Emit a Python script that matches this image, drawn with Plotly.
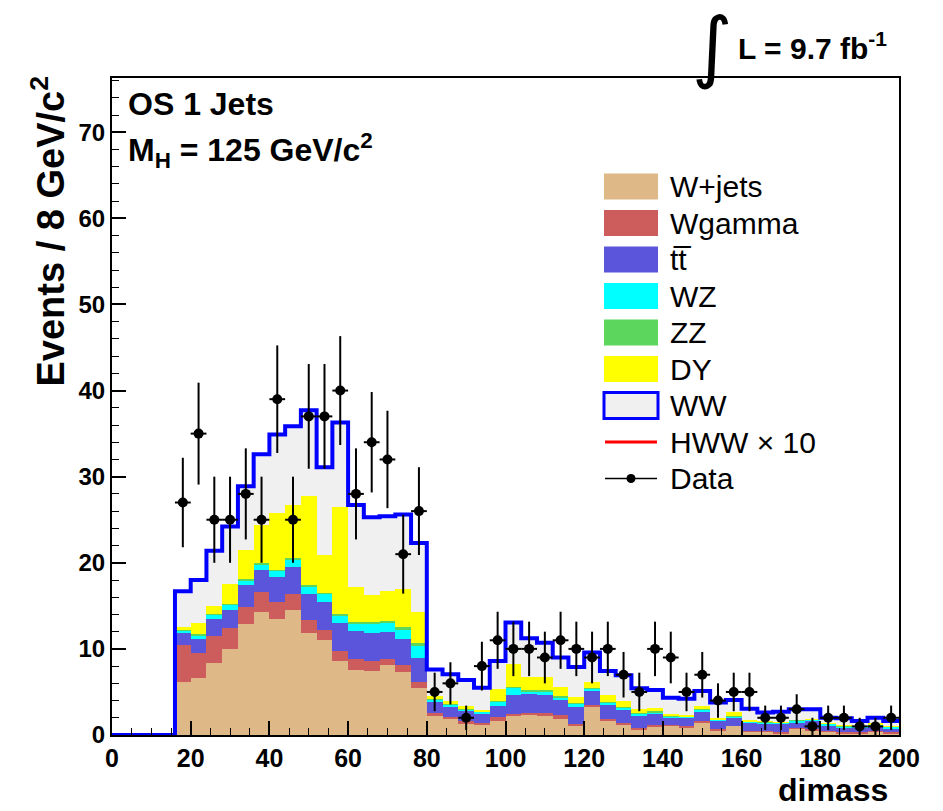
import numpy as np
import plotly.graph_objects as go

# ---- data (bin lower edges, width 4 GeV) ----
bin_lo = list(range(0, 200, 4))  # 50 bins, 0..196

# per-process contributions for bins 16..196 (bins 0..12 are empty)
wjets = [6.16, 6.67, 8.33, 9.96, 12.90, 14.30, 13.45, 14.50, 11.80, 11.05, 8.60, 7.56, 7.44, 8.10, 7.33, 5.50,
         2.20, 1.82, 1.30, 1.16, 1.63, 2.20, 2.33, 2.20, 1.90, 1.16, 3.26, 1.63, 1.13, 0.66, 0.97,
         1.05, 0.85, 1.43, 0.58, 1.05, 0.40, 0.40, 0.20, 0.74, 0.58, 0.40, 0.17, 0.20, 0.36, 0.20]
wgamma = [4.24, 2.90, 3.22, 2.44, 2.00, 2.30, 1.95, 1.90, 1.50, 1.15, 1.17, 1.31, 1.16, 0.77, 0.77, 0.60,
          0.30, 0.31, 0.33, 0.27, 0.47, 0.28, 0.27, 0.30, 0.38, 0.14, 0.24, 0.27, 0.30, 0.19, 0.16,
          0.10, 0.15, 0.20, 0.16, 0.05, 0.10, 0.10, 0.13, 0.11, 0.12, 0.10, 0.13, 0.10, 0.09, 0.10]
ttbar = [1.40, 1.63, 1.95, 2.10, 2.50, 2.60, 2.90, 3.10, 3.10, 3.20, 3.29, 3.23, 3.30, 3.13, 3.00, 2.90,
         1.40, 1.17, 1.17, 1.07, 1.27, 2.17, 2.20, 2.15, 1.79, 1.96, 1.60, 1.60, 1.47, 1.43, 1.27,
         0.92, 0.98, 1.07, 0.89, 0.97, 0.97, 0.86, 0.95, 0.65, 1.00, 0.65, 0.55, 0.55, 0.62, 0.49]
wz = [0.30, 0.40, 0.50, 0.60, 0.60, 0.65, 0.85, 0.90, 0.90, 1.00, 0.84, 0.90, 1.00, 1.06, 1.20, 1.30,
      0.20, 0.27, 0.20, 0.20, 0.53, 0.85, 0.30, 0.45, 0.33, 0.38, 0.33, 0.26, 0.28, 0.20, 0.27,
      0.13, 0.17, 0.30, 0.17, 0.13, 0.13, 0.14, 0.12, 0.20, 0.08, 0.13, 0.15, 0.15, 0.13, 0.16]
zz = [0.20, 0.10, 0.10, 0.10, 0.10, 0.15, 0.05, 0.10, 0.10, 0.05, 0.10, 0.10, 0.20, 0.14, 0.20, 0.40,
      0.10, 0.08, 0.05, 0.05, 0.10, 0.10, 0.10, 0.10, 0.10, 0.06, 0.07, 0.04, 0.07, 0.07, 0.08,
      0.05, 0.05, 0.05, 0.05, 0.05, 0.02, 0.03, 0.03, 0.05, 0.02, 0.02, 0.05, 0.05, 0.05, 0.05]
dy = [0.20, 1.30, 0.90, 2.30, 3.40, 4.40, 6.60, 6.20, 10.40, 4.45, 12.50, 4.10, 3.20, 3.50, 4.40, 3.60,
      0.30, 0.30, 0.32, 0.12, 1.40, 2.70, 1.58, 1.54, 1.08, 0.76, 0.66, 0.85, 0.70, 0.43, 0.35,
      0.15, 0.10, 0.32, 0.09, 0.42, 0.08, 0.10, 0.07, 0.05, 0.06, 0.05, 0.10, 0.05, 0.11, 0.07]
ww = [4.20, 5.00, 6.40, 6.70, 7.40, 8.20, 9.10, 9.15, 9.90, 10.20, 9.80, 9.50, 9.00, 8.70, 8.70, 8.00,
      3.10, 3.10, 3.03, 2.63, 3.20, 4.76, 4.46, 3.96, 3.42, 3.44, 3.41, 2.79, 2.99, 2.45, 2.13,
      1.94, 1.90, 1.73, 1.82, 1.40, 1.36, 0.97, 1.20, 1.20, 1.14, 0.65, 0.79, 0.53, 0.64, 0.56]
data = [27, 35, 25, 25, 28, 25, 39, 25, 37, 37, 40, 28, 34, 32, 21, 26,
        5, 6, 2, 8, 11, 10, 10, 9, 11, 10, 9, 10, 7, 5, 10,
        9, 5, 7, 4, 5, 5, 2, 2, 3, 1, 2, 2, 1, 1, 2]

procs = [("W+jets", wjets, "#DEB887"), ("Wgamma", wgamma, "#CD5C5C"), ("tt\u0305", ttbar, "#5A55DA"),
         ("WZ", wz, "#00FFFF"), ("ZZ", zz, "#5CD65C"), ("DY", dy, "#FFFF00"), ("WW", ww, "#F0F0F0")]

nempty = 4
bw = 4
centers = [lo + bw / 2 for lo in bin_lo]

fig = go.Figure()
total = np.zeros(len(bin_lo))
for name, vals, col in procs:
    y = [0.0] * nempty + list(vals)
    total += np.array(y)
    fig.add_trace(go.Bar(x=centers, y=y, width=[bw] * len(centers), name=name,
                         marker=dict(color=col, line=dict(width=0)), showlegend=False,
                         hoverinfo="skip"))

# WW outline (top of stack)
edges = bin_lo + [200]
tot_line = list(total) + [total[-1]]
fig.add_trace(go.Scatter(x=edges, y=tot_line, mode="lines", line=dict(color="#0000FF", width=4, shape="hv"),
                         showlegend=False, hoverinfo="skip"))

# data
dx = centers[nempty:]
fig.add_trace(go.Scatter(x=dx, y=data, mode="markers",
                         marker=dict(color="black", size=10, symbol="circle"),
                         error_y=dict(type="data", array=list(np.sqrt(data)), color="black", thickness=2, width=0),
                         error_x=dict(type="data", array=[bw / 2] * len(dx), color="black", thickness=2, width=0),
                         showlegend=False))

FONT = "Liberation Sans, Arial, sans-serif"
L, R, T, B = 112, 44, 78, 76
W, H = 943, 811
PW, PH = W - L - R, H - T - B


def px(x):
    return (x - L) / PW


def py(y):
    return (H - B - y) / PH


fig.update_layout(
    width=W, height=H, margin=dict(l=L, r=R, t=T, b=B),
    paper_bgcolor="white", plot_bgcolor="white",
    barmode="stack", bargap=0,
    showlegend=False,
    font=dict(family=FONT, color="black"),
    xaxis=dict(range=[0, 200], showgrid=False, zeroline=False, showline=True, mirror=True,
               linecolor="black", linewidth=2, ticks="inside", ticklen=14, tickwidth=2, tickcolor="black",
               tick0=0, dtick=20, tickfont=dict(family=FONT, size=25, weight="bold"),
               minor=dict(ticks="inside", ticklen=7, dtick=5, tickwidth=1, tickcolor="black")),
    yaxis=dict(range=[0, 76.3], showgrid=False, zeroline=False, showline=True, mirror=True,
               linecolor="black", linewidth=2, ticks="inside", ticklen=14, tickwidth=2, tickcolor="black",
               tick0=0, dtick=10, tickfont=dict(family=FONT, size=24, weight="bold"),
               minor=dict(ticks="inside", ticklen=7, dtick=2, tickwidth=1, tickcolor="black")),
)

ann = []
shapes = []
ann.append(dict(text="Events / 8 GeV/c<sup>2</sup>", textangle=-90, xref="paper", yref="paper",
                x=px(48), y=py(74), xanchor="center", yanchor="top", showarrow=False,
                font=dict(family=FONT, size=38, weight="bold")))
ann.append(dict(text="dimass", xref="paper", yref="paper", x=px(889), y=py(790), xanchor="right",
                yanchor="middle", showarrow=False, borderpad=0, font=dict(family=FONT, size=32, weight="bold")))
ann.append(dict(text="OS 1 Jets", xref="paper", yref="paper", x=px(126), y=py(104), xanchor="left",
                yanchor="middle", showarrow=False, font=dict(family=FONT, size=32, weight="bold")))
ann.append(dict(text="M<sub>H</sub> = 125 GeV/c<sup>2</sup>", xref="paper", yref="paper", x=px(126), y=py(150),
                xanchor="left", yanchor="middle", showarrow=False, font=dict(family=FONT, size=32, weight="bold")))
ann.append(dict(text="\u222B", xref="paper", yref="paper", x=px(712), y=py(46), xanchor="center",
                yanchor="middle", showarrow=False, font=dict(family="DejaVu Sans", size=78)))
ann.append(dict(text="L = 9.7 fb<sup>-1</sup>", xref="paper", yref="paper", x=px(736), y=py(46), xanchor="left",
                yanchor="middle", showarrow=False, font=dict(family=FONT, size=30, weight="bold")))

# manual legend
leg = [("W+jets", "#DEB887", "box"), ("Wgamma", "#CD5C5C", "box"), ("tt\u0305", "#5A55DA", "box"),
       ("WZ", "#00FFFF", "box"), ("ZZ", "#5CD65C", "box"), ("DY", "#FFFF00", "box"), ("WW", "#F0F0F0", "ww"),
       ("HWW \u00D7 10", "#FF0000", "line"), ("Data", "black", "data")]
y0 = 186.5
dy_ = 36.5
for i, (lab, col, kind) in enumerate(leg):
    cy = y0 + i * dy_
    if kind in ("box", "ww"):
        shapes.append(dict(type="rect", xref="paper", yref="paper", x0=px(604), x1=px(658),
                           y0=py(cy - 13), y1=py(cy + 13), fillcolor=col,
                           line=dict(color="#0000FF" if kind == "ww" else col, width=3 if kind == "ww" else 0)))
    elif kind == "line":
        shapes.append(dict(type="line", xref="paper", yref="paper", x0=px(605), x1=px(657),
                           y0=py(cy), y1=py(cy), line=dict(color=col, width=3)))
    else:
        shapes.append(dict(type="line", xref="paper", yref="paper", x0=px(605), x1=px(657),
                           y0=py(cy), y1=py(cy), line=dict(color="black", width=1.5)))
        shapes.append(dict(type="circle", xref="paper", yref="paper", x0=px(626.5), x1=px(635.5),
                           y0=py(cy - 4.5), y1=py(cy + 4.5), fillcolor="black", line=dict(color="black", width=0)))
    ann.append(dict(text=lab, xref="paper", yref="paper", x=px(668), y=py(cy), xanchor="left", yanchor="middle",
                    showarrow=False, font=dict(family=FONT, size=30)))

fig.update_layout(annotations=ann, shapes=shapes)
fig.write_html("out.html")
